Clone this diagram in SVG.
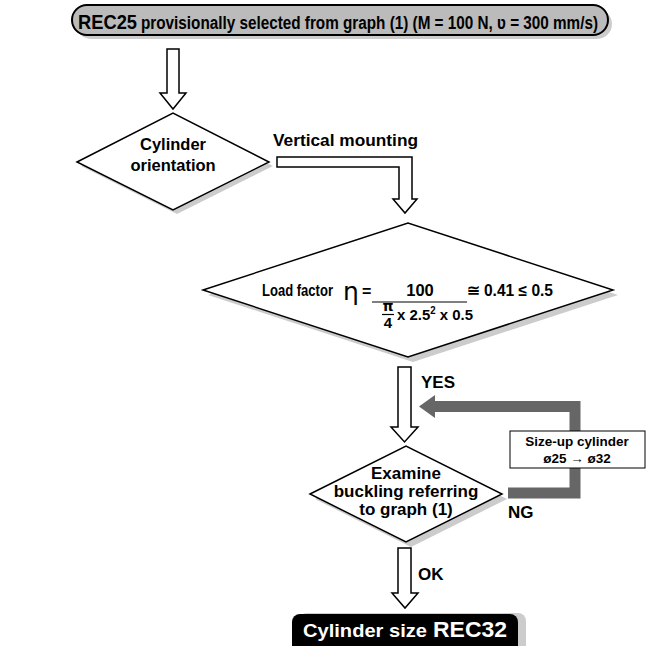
<svg xmlns="http://www.w3.org/2000/svg" width="650" height="646" viewBox="0 0 650 646">
<style>
  text { font-family: "Liberation Sans", Arial, Helvetica, sans-serif; font-weight: bold; fill: #000; }
  .shape { fill: #fff; stroke: #000; stroke-width: 1.5; stroke-linejoin: miter; }
  .shadow { fill: #cccccc; stroke: none; }
  .hollow { fill: #fff; stroke: #000; stroke-width: 1.5; stroke-linejoin: miter; }
  .lbl { font-size: 17px; }
  .c { text-anchor: middle; }
</style>
<rect width="650" height="646" fill="#fff"/>

<g id="connectors">
  <path class="hollow" d="M167,49 H179 V93 H186 L173,109 L160,93 H167 Z"/>
  <path class="hollow" d="M277,157 H412 V199 H417 L405,213 L393,199 H399 V167 H277 Z"/>
  <path class="hollow" d="M398,367 H411 V427 H418 L404.5,442 L391,427 H398 Z"/>
  <path class="hollow" d="M398,548 H411 V593 H418 L405,608 L392,593 H398 Z"/>
  <polyline points="508,493 575,493 575,406.5 434,406.5" fill="none" stroke="#666" stroke-width="11"/>
  <polygon points="435,395 435,418 419,406.5" fill="#666"/>
  <text class="lbl" x="273" y="146" textLength="145" lengthAdjust="spacingAndGlyphs">Vertical mounting</text>
  <text class="lbl" x="421" y="388">YES</text>
  <text class="lbl" x="508" y="518">NG</text>
  <text class="lbl" x="418" y="580">OK</text>
</g>

<g id="start">
  <rect class="shadow" x="76" y="9" width="536" height="30" rx="15"/>
  <rect x="72" y="5" width="536" height="30" rx="15" fill="#bbbbbb" stroke="#000" stroke-width="2"/>
  <text x="78" y="29" font-size="20.5" textLength="59" lengthAdjust="spacingAndGlyphs">REC25</text>
  <text x="141" y="29" font-size="18" textLength="457" lengthAdjust="spacingAndGlyphs">provisionally selected from graph (1) (M = 100 N, ʋ = 300 mm/s)</text>
</g>

<g id="orientation">
  <polygon class="shadow" points="81,166 177,118 273,166 177,214"/>
  <polygon class="shape" points="77,162 173,113 269,162 173,210"/>
  <text class="c" x="173" y="150" font-size="16.5">Cylinder</text>
  <text class="c" x="173" y="171" font-size="16.5">orientation</text>
</g>

<g id="loadfactor">
  <polygon class="shadow" points="208,295 413,228 618,295 413,362"/>
  <polygon class="shape" points="203,290 408,223 613,290 408,357"/>
  <text x="262" y="296" font-size="16" textLength="71" lengthAdjust="spacingAndGlyphs">Load factor</text>
  <text x="343" y="300" font-size="25" style="font-family:'DejaVu Sans',sans-serif;font-weight:normal">η</text>
  <text x="362" y="297" font-size="16">=</text>
  <line x1="372" y1="302" x2="467" y2="302" stroke="#000" stroke-width="1.2"/>
  <text class="c" x="420" y="296" font-size="16.5">100</text>
  <text class="c" x="388" y="311" font-size="14" style="font-family:'DejaVu Sans',sans-serif">π</text>
  <line x1="382" y1="314.5" x2="394" y2="314.5" stroke="#000" stroke-width="1.2"/>
  <text class="c" x="388" y="328" font-size="15">4</text>
  <text x="397" y="320" font-size="15.5" textLength="76" lengthAdjust="spacingAndGlyphs">x 2.5<tspan font-size="10" dy="-6">2</tspan><tspan dy="6"> x 0.5</tspan></text>
  <text x="467" y="296" font-size="16" textLength="86" lengthAdjust="spacingAndGlyphs">≅ 0.41 ≤ 0.5</text>
</g>

<g id="buckling">
  <polygon class="shadow" points="315,499 411,451 507,499 411,547"/>
  <polygon class="shape" points="310,494 406,446 502,494 406,542"/>
  <text class="c" x="406" y="479" font-size="17">Examine</text>
  <text class="c" x="406" y="497" font-size="17">buckling referring</text>
  <text class="c" x="406" y="515" font-size="17">to graph (1)</text>
</g>

<g id="sizeup">
  <rect x="510" y="431" width="135" height="37" fill="#fff" stroke="#000" stroke-width="1"/>
  <text class="c" x="577" y="446" font-size="13.5">Size-up cylinder</text>
  <text class="c" x="577" y="463" font-size="13.5">ø25 → ø32</text>
</g>

<g id="result">
  <path d="M299,621 a8,8 0 0 1 8,-8 H518 a8,8 0 0 1 8,8 V646 H299 Z" class="shadow"/>
  <path d="M292,646 V622 a8,8 0 0 1 8,-8 H510 a8,8 0 0 1 8,8 V646 Z" fill="#000"/>
  <text x="303" y="637" font-size="19" style="fill:#fff" textLength="124" lengthAdjust="spacingAndGlyphs">Cylinder size</text>
  <text x="433" y="637" font-size="22" style="fill:#fff" textLength="74" lengthAdjust="spacingAndGlyphs">REC32</text>
</g>
</svg>
